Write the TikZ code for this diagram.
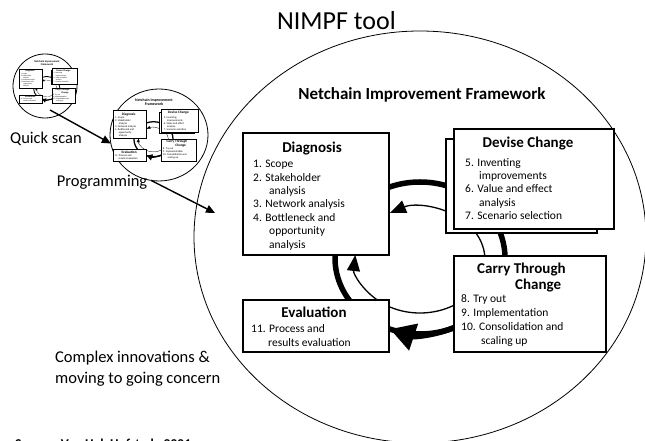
\documentclass[tikz,border=0pt]{standalone}
\usepackage{fontspec}
\setmainfont{Carlito}
\usetikzlibrary{positioning, calc, arrows.meta, shapes.geometric}

\newcommand{\fsc}{1}
\tikzset{
  stagebox/.style={draw, fill=white, line width=\fsc*1.1pt, inner sep=0pt, outer sep=0pt},
  stagehead/.style={font=\bfseries\fontsize{15}{16}\selectfont, inner sep=0pt},
  stageitems/.style={font=\fontsize{11.5}{13.4}\selectfont, align=left, inner sep=0pt, anchor=north west},
  loopthick/.style={line width=\fsc*5.5pt},
  loopthin/.style={line width=\fsc*1.3pt},
  toolring/.style={draw, ellipse, fill=white, inner sep=0pt, outer sep=0pt, line width=0.8pt},
  phasetext/.style={font=\fontsize{16.5}{21}\selectfont, inner sep=0pt, align=left},
  phasearrow/.style={line width=1.4pt, -{Triangle[length=9pt,width=8pt]}}
}

% the improvement cycle, #1 = scale factor, #2 = heading
\newcommand{\drawframe}[2]{%
  \renewcommand{\fsc}{#1}%
  \coordinate (cyc) at (420,183);
  \coordinate (cyc2) at (420,181);
  % thick loop
  \draw[loopthick] (cyc) ellipse[x radius=85, y radius=76];
  \draw[loopthick, -{Triangle[length=25pt,width=27pt,scale=#1]}] (cyc) ++(-60:85 and 76)
    arc[start angle=-60, end angle=-110.7, x radius=85, y radius=76];
  % thin loop
  \draw[loopthin, -{Triangle[length=16pt,width=13pt,scale=#1]}] (cyc2) ++(45:65 and 53)
    arc[start angle=45, end angle=117.5, x radius=65, y radius=53];
  \draw[loopthin] (cyc2) ++(-35:65 and 53)
    arc[start angle=-35, end angle=40, x radius=65, y radius=53];
  \draw[loopthin, -{Triangle[length=16pt,width=13pt,scale=#1]}] (cyc2) ++(-35:65 and 53)
    arc[start angle=-35, end angle=-185.4, x radius=65, y radius=53];
  % stages
  \node[stagebox, minimum width=151pt, minimum height=94pt] (devback) at (521.5,255) {};
  \node[stagebox, minimum width=146pt, minimum height=122pt] (diag) at (316,247) {};
  \node[stagebox, minimum width=160pt, minimum height=100pt] (devise) at (534,262) {};
  \node[stagebox, minimum width=152pt, minimum height=96pt] (carry) at (530,137) {};
  \node[stagebox, minimum width=146pt, minimum height=52pt] (eval) at (316,115) {};
  % stage texts
  \node[stagehead, anchor=base] (diaghead) at ($(diag.north)+(-4,-20)$) {Diagnosis};
  \node[stageitems] (diagitems) at ($(diag.north west)+(10,-27)$) {1. Scope\\2. Stakeholder\\\hspace*{16pt}analysis\\3. Network analysis\\4. Bottleneck and\\\hspace*{16pt}opportunity\\\hspace*{16pt}analysis};
  \node[stagehead, anchor=base] (devisehead) at ($(devise.north)+(-6,-19)$) {Devise Change};
  \node[stageitems] (deviseitems) at ($(devise.north west)+(11,-29)$) {5. Inventing\\\hspace*{14pt}improvements\\6. Value and effect\\\hspace*{14pt}analysis\\7. Scenario selection};
  \node[stagehead, align=left, anchor=north west] (carryhead) at ($(carry.north west)+(23,-7)$) {Carry Through\\\hspace*{38pt}Change};
  \node[stageitems, font=\fontsize{11.5}{14}\selectfont] (carryitems) at ($(carry.north west)+(7,-38)$) {8. Try out\\9. Implementation\\10. Consolidation and\\\hspace*{20pt}scaling up};
  \node[stagehead, anchor=base] (evalhead) at ($(eval.north)+(-2,-18)$) {Evaluation};
  \node[stageitems, font=\fontsize{11.5}{14}\selectfont] (evalitems) at ($(eval.north west)+(8,-24)$) {11. Process and\\\hspace*{17pt}results evaluation};
  \node[font=\bfseries\fontsize{17}{18}\selectfont, align=center, inner sep=0pt] (nifhead) at (422,346) {#2};
}

\begin{document}
\begin{tikzpicture}[x=1pt, y=1pt]
  \useasboundingbox (0,0) rectangle (645,441);

  % rings
  \node[toolring, minimum width=452pt, minimum height=412pt] (nif) at (420,204) {};
  \node[toolring, minimum width=64pt, minimum height=64pt] (scan) at (45,355) {};
  \node[toolring, minimum width=98pt, minimum height=92pt] (prog) at (159,306) {};

  % framework and its thumbnails
  \drawframe{1}{Netchain Improvement Framework}
  \begin{scope}[name prefix=prog-, shift={(56.9,259.7)}, scale=0.23, transform shape]
    \drawframe{0.23}{Netchain Improvement\\Framework}
  \end{scope}
  \begin{scope}[name prefix=scan-, shift={(-18.4,324.4)}, scale=0.155, transform shape]
    \drawframe{0.155}{Netchain Improvement\\Framework}
  \end{scope}

  % labels
  \node[font=\fontsize{26}{30}\selectfont, inner sep=0pt, anchor=base east] (tooltitle) at (396,411) {NIMPF tool};
  \node[phasetext] (scanlbl) at (46,302) {Quick scan};
  \node[phasetext] (proglbl) at (102,259) {Programming};
  \node[phasetext, anchor=west] (concernlbl) at (55,72) {Complex innovations \&\\moving to going concern};
  \node[font=\bfseries\fontsize{13.5}{15}\selectfont, anchor=base west, inner sep=0pt] (srcnote) at (15,-7.5) {Source: Van Hal, Hofstede 2001};

  % phase arrows
  \coordinate (progend) at (215,228);
  \draw[phasearrow] ($(scan.center)+(5,-24)$) -- (prog.190);
  \draw[phasearrow] (prog.-100) -- (progend);
\end{tikzpicture}
\end{document}
